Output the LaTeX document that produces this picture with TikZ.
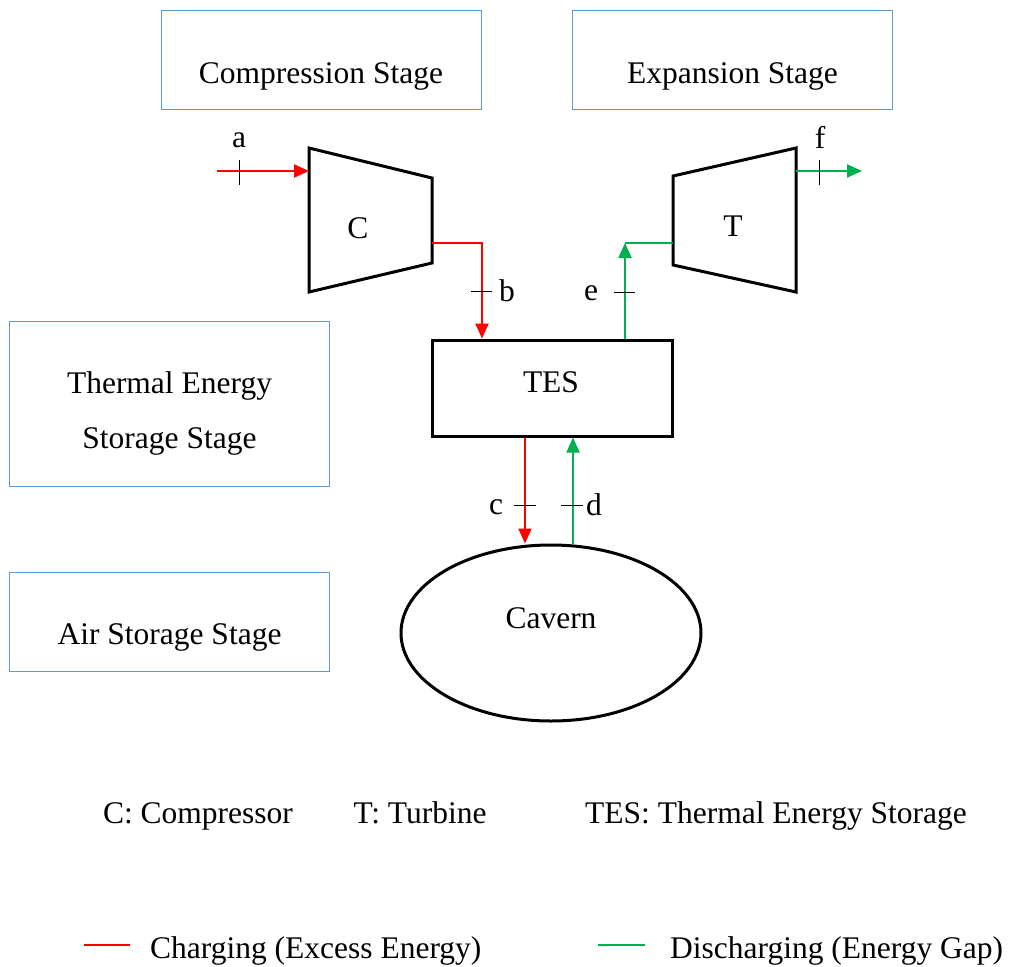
\documentclass[tikz,border=0pt]{standalone}
\usepackage{fontspec}
\setmainfont{Liberation Serif}
\definecolor{charge}{RGB}{255, 0, 0}
\definecolor{discharge}{RGB}{0, 176, 80}
\definecolor{stageline}{RGB}{91, 155, 213}
\usetikzlibrary{arrows.meta, positioning, shapes.geometric}

\begin{document}
\begin{tikzpicture}[
        x=1pt, y=-1pt,
        font=\fontsize{31.5}{38}\selectfont,
        stage/.style={draw=stageline, line width=1pt, minimum width=320pt,
                      minimum height=99pt, inner sep=0pt},
        word/.style={anchor=base, inner sep=0pt},
        unit/.style={draw, line width=3pt, inner sep=0pt},
        flow/.style={line width=2pt, -{Triangle[length=15pt, width=13pt]}},
        tick/.style={line width=1pt}
    ]
        \useasboundingbox (0,0) rectangle (1013,967);

        % Stage boxes
        \node[stage] (compstage) at (321,59.5) {};
        \node[word] (comptext) at (321,83) {Compression Stage};
        \node[stage] (expstage) at (732.5,59.5) {};
        \node[word] (exptext) at (732.5,83) {Expansion Stage};
        \node[stage, minimum height=165pt] (tesstage) at (169.5,403.5) {};
        \node[word] (testext1) at (169.5,393) {Thermal Energy};
        \node[word] (testext2) at (169.5,448) {Storage Stage};
        \node[stage] (airstage) at (169.5,621.5) {};
        \node[word] (airtext) at (169.5,644) {Air Storage Stage};

        % Compressor and turbine
        \draw[unit] (309,148) -- (432,178) -- (432,263) -- (309,292) -- cycle;
        \node[word] (comp) at (358,238) {C};
        \draw[unit] (673,176) -- (796,148) -- (796,292) -- (673,265) -- cycle;
        \node[word] (turb) at (733,236) {T};
        \coordinate (C-in) at (309,171);
        \coordinate (C-out) at (432,243);
        \coordinate (T-in) at (673,243);
        \coordinate (T-out) at (796,171);

        % Storage
        \node[unit, minimum width=240pt, minimum height=96pt] (tes) at (552,388) {};
        \node[word] (tesname) at (551,392) {TES};
        \node[unit, ellipse, minimum width=300pt, minimum height=176pt] (cavern) at (551,633) {};
        \node[word] (cavname) at (551,628) {Cavern};
        \coordinate (c-top) at ([xshift=-27pt]tes.south);
        \coordinate (d-top) at ([xshift=21pt]tes.south);

        % Charging flows
        \coordinate (a-start) at (217,171);
        \draw[flow, charge] (a-start) -- (C-in);
        \draw[flow, charge] (C-out) -| ([xshift=-70pt]tes.north);
        \draw[flow, charge] (c-top) -- (c-top |- cavern.north);

        % Discharging flows
        \coordinate (e-bend) at (625,243);
        \coordinate (f-end) at (862,171);
        \draw[flow, discharge] (d-top |- cavern.north) -- (d-top);
        \draw[flow, discharge] ([xshift=73pt]tes.north) -- (e-bend);
        \draw[discharge, line width=2pt] (e-bend) -- (T-in);
        \draw[flow, discharge] (T-out) -- (f-end);

        % State points
        \draw[tick] (239,160) -- (239,185);
        \node[word] (pa) at (239,147) {a};
        \draw[tick] (471,291) -- (492,291);
        \node[word] (pb) at (507,301) {b};
        \draw[tick] (514,505) -- (536,505);
        \node[word] (pc) at (496,514) {c};
        \draw[tick] (561,505) -- (583,505);
        \node[word] (pd) at (594,515) {d};
        \draw[tick] (614,292) -- (635,292);
        \node[word] (pe) at (591,300) {e};
        \draw[tick] (819,160) -- (819,185);
        \node[word] (pf) at (820,148) {f};

        % Abbreviations
        \node[word] (abbc) at (198,823) {C: Compressor};
        \node[word] (abbt) at (420,823) {T: Turbine};
        \node[word] (abbtes) at (776,823) {TES: Thermal Energy Storage};

        % Legend
        \coordinate (red-l) at (84,945);
        \coordinate (red-r) at (130,945);
        \coordinate (grn-l) at (598,945);
        \coordinate (grn-r) at (645,945);
        \draw[charge, line width=2pt] (red-l) -- (red-r);
        \node[word, anchor=base west] (legcharge) at (150,958) {Charging (Excess Energy)};
        \draw[discharge, line width=2pt] (grn-l) -- (grn-r);
        \node[word, anchor=base west] (legdis) at (670,958) {Discharging (Energy Gap)};
    \end{tikzpicture}
\end{document}
